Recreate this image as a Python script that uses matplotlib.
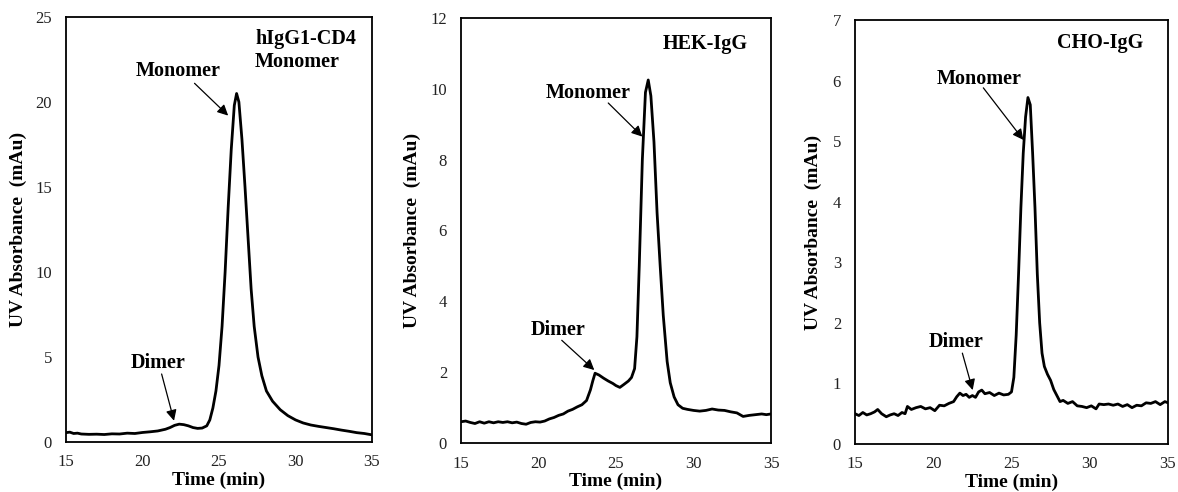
import matplotlib
matplotlib.use("Agg")
import matplotlib.pyplot as plt

plt.rcParams['font.family'] = ['Liberation Serif', 'DejaVu Serif']

# size-exclusion traces, time in min and UV absorbance in mAu
time_cd4 = [15.0, 15.25, 15.5, 15.75, 16.0, 16.5, 17.0, 17.5, 18.0, 18.5,
            19.0, 19.5, 20.0, 20.5, 21.0, 21.5, 21.8, 22.1, 22.4, 22.7,
            23.0, 23.3, 23.6, 23.9, 24.2, 24.4, 24.6, 24.8, 25.0, 25.2,
            25.4, 25.6, 25.8, 26.0, 26.15, 26.3, 26.5, 26.7, 26.9, 27.1,
            27.3, 27.55, 27.8, 28.1, 28.5, 29.0, 29.5, 30.0, 30.5, 31.0,
            31.5, 32.0, 32.5, 33.0, 33.5, 34.0, 34.5, 35.0]
abs_cd4 = [0.55, 0.58, 0.5, 0.52, 0.47, 0.45, 0.46, 0.44, 0.48, 0.47,
           0.52, 0.5, 0.56, 0.6, 0.65, 0.75, 0.85, 0.98, 1.05, 1.02,
           0.95, 0.85, 0.8, 0.82, 0.95, 1.3, 2.0, 3.0, 4.5, 6.8,
           10.0, 13.8, 17.2, 19.8, 20.5, 20.0, 17.8, 15.0, 12.0, 9.0,
           6.8, 5.0, 3.9, 3.0, 2.4, 1.9, 1.55, 1.3, 1.12, 1.0,
           0.92, 0.85, 0.78, 0.7, 0.63, 0.55, 0.5, 0.42]

time_hek = [15.0, 15.3, 15.6, 15.9, 16.2, 16.5, 16.8, 17.1, 17.4, 17.7,
            18.0, 18.3, 18.6, 18.9, 19.2, 19.5, 19.8, 20.1, 20.4, 20.7,
            21.0, 21.3, 21.6, 21.9, 22.2, 22.5, 22.8, 23.1, 23.35, 23.5,
            23.65, 23.9, 24.2, 24.5, 24.8, 25.0, 25.25, 25.5, 25.8, 26.0,
            26.2, 26.35, 26.5, 26.7, 26.9, 27.08, 27.25, 27.45, 27.65, 27.85,
            28.05, 28.3, 28.5, 28.75, 29.0, 29.3, 29.6, 30.0, 30.4, 30.8,
            31.2, 31.6, 32.0, 32.4, 32.8, 33.2, 33.6, 34.0, 34.4, 34.7,
            35.0]
abs_hek = [0.6, 0.62, 0.58, 0.55, 0.6, 0.56, 0.6, 0.57, 0.6, 0.58,
           0.6, 0.57, 0.59, 0.55, 0.53, 0.58, 0.6, 0.59, 0.62, 0.68,
           0.72, 0.78, 0.82, 0.9, 0.95, 1.02, 1.08, 1.2, 1.5, 1.75,
           1.97, 1.92, 1.83, 1.75, 1.68, 1.62, 1.57, 1.65, 1.75, 1.85,
           2.1, 3.0, 5.0, 8.0, 9.9, 10.25, 9.8, 8.5, 6.5, 5.0,
           3.6, 2.3, 1.7, 1.3, 1.08, 0.98, 0.95, 0.92, 0.9, 0.92,
           0.96, 0.93, 0.92, 0.88, 0.85, 0.75, 0.78, 0.8, 0.82, 0.8,
           0.82]

time_cho = [15.0, 15.25, 15.5, 15.75, 16.0, 16.25, 16.45, 16.7, 17.0, 17.25,
            17.5, 17.75, 18.0, 18.2, 18.35, 18.6, 18.9, 19.2, 19.5, 19.8,
            20.1, 20.4, 20.7, 21.0, 21.3, 21.5, 21.7, 21.9, 22.1, 22.3,
            22.5, 22.7, 22.9, 23.1, 23.3, 23.6, 23.9, 24.2, 24.5, 24.8,
            25.0, 25.15, 25.3, 25.45, 25.6, 25.75, 25.9, 26.05, 26.2, 26.35,
            26.5, 26.65, 26.8, 26.95, 27.1, 27.3, 27.5, 27.7, 27.9, 28.1,
            28.3, 28.6, 28.9, 29.2, 29.5, 29.8, 30.1, 30.4, 30.6, 30.9,
            31.2, 31.5, 31.8, 32.1, 32.4, 32.7, 33.0, 33.3, 33.6, 33.9,
            34.2, 34.5, 34.8, 35.0]
abs_cho = [0.5, 0.47, 0.52, 0.48, 0.5, 0.53, 0.57, 0.5, 0.45, 0.48,
           0.5, 0.47, 0.52, 0.5, 0.62, 0.57, 0.6, 0.62, 0.58, 0.6,
           0.55, 0.64, 0.63, 0.67, 0.7, 0.78, 0.84, 0.8, 0.82, 0.77,
           0.8, 0.77, 0.86, 0.89, 0.83, 0.85, 0.8, 0.84, 0.81, 0.82,
           0.86, 1.1, 1.8, 2.8, 3.9, 4.8, 5.4, 5.72, 5.6, 4.8,
           3.9, 2.8, 2.0, 1.5, 1.28, 1.15, 1.05, 0.9, 0.8, 0.7,
           0.72, 0.67, 0.7, 0.63, 0.62, 0.6, 0.63, 0.58, 0.66, 0.65,
           0.66, 0.64, 0.66, 0.62, 0.65, 0.6, 0.64, 0.63, 0.68, 0.67,
           0.7, 0.65, 0.7, 0.68]

panels = [
    dict(t=time_cd4, a=abs_cd4, ymax=25, ystep=5, title="hIgG1-CD4\nMonomer",
         title_xy=(27.35, 24.3), rect=(66, 17, 372, 442), ylab_x=-0.127,
         mono_txt=(22.3, 21.8), mono_arrow=((23.4, 21.1), (25.6, 19.2)),
         dim_txt=(21.0, 4.65), dim_arrow=((21.25, 4.0), (22.06, 1.25))),
    dict(t=time_hek, a=abs_hek, ymax=12, ystep=2, title="HEK-IgG",
         title_xy=(28.0, 11.55), rect=(461, 18, 771, 443), ylab_x=-0.129,
         mono_txt=(23.2, 9.88), mono_arrow=((24.5, 9.6), (26.7, 8.65)),
         dim_txt=(21.28, 3.19), dim_arrow=((21.5, 2.9), (23.6, 2.06))),
    dict(t=time_cho, a=abs_cho, ymax=7, ystep=1, title="CHO-IgG",
         title_xy=(27.9, 6.78), rect=(855, 20, 1168, 444), ylab_x=-0.106,
         mono_txt=(22.95, 6.02), mono_arrow=((23.2, 5.88), (25.76, 5.02)),
         dim_txt=(21.45, 1.69), dim_arrow=((21.86, 1.5), (22.52, 0.89))),
]

W, H = 1178, 492
fig = plt.figure(figsize=(W / 100, H / 100), dpi=100)

for p in panels:
    x0, y0, x1, y1 = p["rect"]
    ax = fig.add_axes([x0 / W, (H - y1) / H, (x1 - x0) / W, (y1 - y0) / H])
    ax.plot(p["t"], p["a"], color="black", lw=2.0)
    ax.set_xlim(15, 35)
    ax.set_ylim(0, p["ymax"])
    ax.set_xticks(range(15, 36, 5))
    ax.set_yticks(range(0, p["ymax"] + 1, p["ystep"]))
    ax.tick_params(length=0, labelsize=12, colors="#222222")
    ax.tick_params(axis="y", pad=10)
    ax.tick_params(axis="x", pad=9)
    for s in ax.spines.values():
        s.set_linewidth(1.3)
    ax.set_xlabel("Time (min)", fontsize=14, fontweight="bold", labelpad=1)
    ax.set_ylabel("UV Absorbance  (mAu)", fontsize=14, fontweight="bold")
    ax.yaxis.set_label_coords(p["ylab_x"], 0.5)

    ax.text(*p["title_xy"], p["title"], fontsize=14.5, fontweight="bold",
            ha="left", va="top", linespacing=1.2)
    ax.text(*p["mono_txt"], "Monomer", fontsize=14.5, fontweight="bold",
            ha="center", va="center")
    ax.text(*p["dim_txt"], "Dimer", fontsize=14.5, fontweight="bold",
            ha="center", va="center")
    arrow = dict(arrowstyle="-|>", color="black", lw=0.9, mutation_scale=16,
                 shrinkA=0, shrinkB=0)
    ax.annotate("", xy=p["mono_arrow"][1], xytext=p["mono_arrow"][0], arrowprops=arrow)
    ax.annotate("", xy=p["dim_arrow"][1], xytext=p["dim_arrow"][0], arrowprops=arrow)

fig.savefig("out.png", dpi=100)
